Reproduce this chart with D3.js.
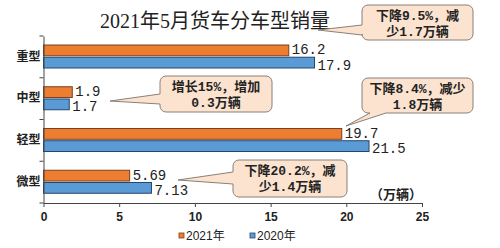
<!DOCTYPE html>
<html>
<head>
<meta charset="utf-8">
<script src="https://cdn.jsdelivr.net/npm/d3@7"></script>
<style>
  body { margin: 0; background: #fff; }
  svg { display: block; }
</style>
</head>
<body>
<script>
// chart data
var categories = ["重型", "中型", "轻型", "微型"];
var series2021 = [16.2, 1.9, 19.7, 5.69];
var series2020 = [17.9, 1.7, 21.5, 7.13];
var labels2021 = ["16.2", "1.9", "19.7", "5.69"];
var labels2020 = ["17.9", "1.7", "21.5", "7.13"];
var seriesNames = ["2021年", "2020年"];
var xTicks = [0, 5, 10, 15, 20, 25];
var title = "2021年5月货车分车型销量";
var unitLabel = "（万辆）";
var notes = [
    ["下降9.5%，减", "少1.7万辆"],
    ["增长15%，增加", "0.3万辆"],
    ["下降8.4%，减少", "1.8万辆"],
    ["下降20.2%，减", "少1.4万辆"]
];

var width = 500, height = 248;
var colors = {"2021年": "#ED7D31", "2020年": "#5B9BD5"};
var strokes = {"2021年": "#7a4020", "2020年": "#24466e"};

var svg = d3.select("body").append("svg")
    .attr("width", width)
    .attr("height", height);

var x = d3.scaleLinear().domain([0, 25]).range([43.5, 422]);
var y = d3.scaleBand().domain(categories).range([36, 203]);
var y1 = d3.scaleBand().domain(seriesNames).range([9, 32]).paddingInner(0.12);

var rows = categories.map(function(c, i){
    return {cat: c, vals: [
        {s: seriesNames[0], v: series2021[i], t: labels2021[i]},
        {s: seriesNames[1], v: series2020[i], t: labels2020[i]}
    ]};
});

//title
svg.append("text")
    .attr("x", 215).attr("y", 28)
    .attr("text-anchor", "middle")
    .style("font-family", "'Liberation Serif','Noto Sans CJK SC',serif")
    .style("font-size", "20px")
    .attr("fill", "#222")
    .text(title);

//bars
var groups = svg.selectAll(".cat")
    .data(rows).enter().append("g")
    .attr("transform", function(d){ return "translate(0," + y(d.cat) + ")"; });

groups.selectAll("rect")
    .data(function(d){ return d.vals; }).enter().append("rect")
    .attr("x", x(0))
    .attr("y", function(d){ return y1(d.s); })
    .attr("width", function(d){ return x(d.v) - x(0); })
    .attr("height", y1.bandwidth())
    .attr("fill", function(d){ return colors[d.s]; })
    .attr("stroke", function(d){ return strokes[d.s]; })
    .attr("stroke-width", 1);

groups.selectAll(".val")
    .data(function(d){ return d.vals; }).enter().append("text")
    .attr("x", function(d){ return x(d.v) + 3; })
    .attr("y", function(d, i){ return y1(d.s) + y1.bandwidth() / 2 + (i == 0 ? 4 : 7); })
    .style("font-family", "'Liberation Mono',monospace")
    .style("font-size", "14px")
    .attr("fill", "#222")
    .text(function(d){ return d.t; });

//axes
var xAxis = svg.append("g")
    .attr("transform", "translate(0,203)")
    .call(d3.axisBottom(x).tickValues(xTicks).tickSize(4).tickSizeOuter(0));
xAxis.select(".domain").attr("stroke", "#444");
xAxis.selectAll(".tick line").attr("stroke", "#444");
xAxis.selectAll("text")
    .attr("dy", "0.9em")
    .style("font-family", "'Liberation Sans',sans-serif")
    .style("font-size", "12px")
    .style("font-weight", "bold")
    .attr("fill", "#222");

var yAxis = svg.append("g")
    .attr("transform", "translate(43.5,0)")
    .call(d3.axisLeft(y).tickSize(0).tickPadding(3));
yAxis.select(".domain").attr("stroke", "#444");
yAxis.selectAll("text")
    .style("font-family", "'Noto Sans CJK SC',sans-serif")
    .style("font-size", "12px")
    .style("font-weight", "bold")
    .attr("fill", "#222");
//separators between categories
svg.append("g").selectAll("line")
    .data(categories.concat([null])).enter().append("line")
    .attr("x1", x(0) - 4).attr("x2", x(0))
    .attr("y1", function(d, i){ return 36 + i * y.step(); })
    .attr("y2", function(d, i){ return 36 + i * y.step(); })
    .attr("stroke", "#444");

svg.append("text")
    .attr("x", 396).attr("y", 199)
    .attr("text-anchor", "middle")
    .style("font-family", "'Noto Sans CJK SC',sans-serif")
    .style("font-size", "13px")
    .style("font-weight", "bold")
    .attr("fill", "#222")
    .text(unitLabel);

//callouts: box, pointer tip, which side the pointer leaves from
var callouts = [
    {box: [362, 5, 111, 35], tip: [318, 30], side: "left", base: [25, 35]},
    {box: [160, 76, 112, 36], tip: [110, 101], side: "left", base: [94, 104]},
    {box: [362, 78, 111, 35], tip: [346, 126], side: "bottom", base: [370, 386]},
    {box: [233, 160, 114, 37], tip: [178, 180], side: "left", base: [172, 184]}
];

function calloutPath(c){
    var bx = c.box[0], by = c.box[1], bw = c.box[2], bh = c.box[3], r = 6;
    var p = d3.path();
    p.moveTo(bx + r, by);
    p.lineTo(bx + bw - r, by);
    p.arcTo(bx + bw, by, bx + bw, by + r, r);
    p.lineTo(bx + bw, by + bh - r);
    p.arcTo(bx + bw, by + bh, bx + bw - r, by + bh, r);
    if (c.side == "bottom"){
        p.lineTo(c.base[1], by + bh);
        p.lineTo(c.tip[0], c.tip[1]);
        p.lineTo(c.base[0], by + bh);
    }
    p.lineTo(bx + r, by + bh);
    p.arcTo(bx, by + bh, bx, by + bh - r, r);
    if (c.side == "left"){
        p.lineTo(bx, c.base[1]);
        p.lineTo(c.tip[0], c.tip[1]);
        p.lineTo(bx, c.base[0]);
    }
    p.lineTo(bx, by + r);
    p.arcTo(bx, by, bx + r, by, r);
    p.closePath();
    return p.toString();
}

var notesG = svg.selectAll(".note")
    .data(callouts).enter().append("g");

notesG.append("path")
    .attr("d", calloutPath)
    .attr("fill", "#FBE3D0")
    .attr("stroke", "#8a8078")
    .attr("stroke-width", 1);

notesG.each(function(c, i){
    var g = d3.select(this);
    notes[i].forEach(function(line, j){
        g.append("text")
            .attr("x", c.box[0] + c.box[2] / 2)
            .attr("y", c.box[1] + 15 + j * 16)
            .attr("text-anchor", "middle")
            .style("font-family", "'Liberation Mono','Noto Sans CJK SC',monospace")
            .style("font-size", "13px")
            .style("font-weight", "bold")
            .attr("fill", "#222")
            .text(line);
    });
});

//legend
var legend = svg.append("g").selectAll("g")
    .data(seriesNames).enter().append("g")
    .attr("transform", function(d, i){ return "translate(" + (179 + i * 71) + ",233)"; });
legend.append("rect")
    .attr("width", 5).attr("height", 5)
    .attr("fill", function(d){ return colors[d]; })
    .attr("stroke", function(d){ return strokes[d]; })
    .attr("stroke-width", 0.8);
legend.append("text")
    .attr("x", 7).attr("y", 7)
    .style("font-family", "'Liberation Sans','Noto Sans CJK SC',sans-serif")
    .style("font-size", "12px")
    .attr("fill", "#222")
    .text(function(d){ return d; });
</script>
</body>
</html>
